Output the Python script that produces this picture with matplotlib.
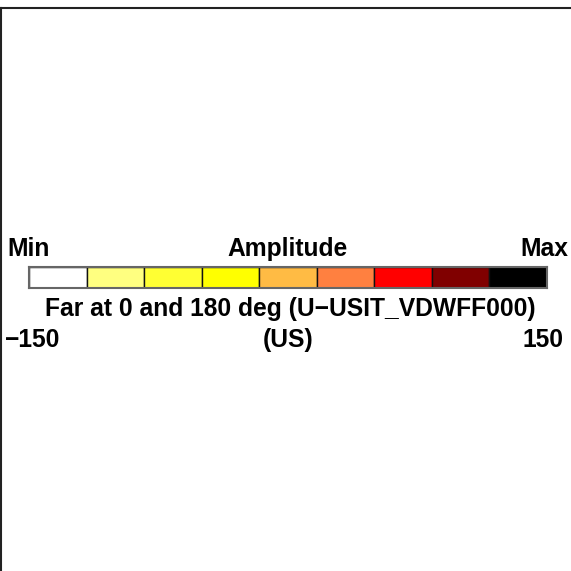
import matplotlib
matplotlib.use('Agg')
import matplotlib.pyplot as plt
from matplotlib.lines import Line2D

# colour scale for amplitude, low to high
colors = ['#FFFFFF', '#FFFF80', '#FFFF33', '#FFFF00', '#FFBB44',
          '#FF8040', '#FF0000', '#800000', '#000000']
vmin_label = '\u2212150'
vmax_label = '150'
title = 'Amplitude'
subtitle = 'Far at 0 and 180 deg (U\u2212USIT_VDWFF000)'
units = '(US)'

W = H = 571
fig = plt.figure(figsize=(W / 100, H / 100), dpi=100)
plt.rcParams['font.family'] = ['Liberation Sans', 'DejaVu Sans']

def fx(px):
    return px / W

def fy(py):
    return 1 - py / H

# frame lines (top and left)
fig.add_artist(Line2D([0, 1], [fy(8), fy(8)], color='#222222', lw=1.5))
fig.add_artist(Line2D([fx(0.7), fx(0.7)], [0, fy(8)], color='#222222', lw=1.5))

# colour bar
ax = fig.add_axes([fx(29), fy(288), fx(547 - 29), fx(288 - 267)])
ax.bar(range(len(colors)), 1, width=1, color=colors, edgecolor='#111111', lw=1, align='edge')
ax.set_xlim(0, len(colors))
ax.set_ylim(0, 1)
ax.set_xticks([])
ax.set_yticks([])
for s in ax.spines.values():
    s.set_color('#666666')
    s.set_linewidth(1.5)

kw = dict(fontsize=17.7, fontweight='bold', va='baseline')
fig.text(fx(7), fy(256), 'Min', ha='left', **kw)
fig.text(fx(288), fy(256), title, ha='center', **kw)
fig.text(fx(568), fy(256), 'Max', ha='right', **kw)
fig.text(fx(290), fy(316), subtitle, ha='center', **kw)
fig.text(fx(5), fy(347), vmin_label, ha='left', **kw)
fig.text(fx(288), fy(347), units, ha='center', **kw)
fig.text(fx(564), fy(347), vmax_label, ha='right', **kw)

fig.savefig('out.png', dpi=100)
